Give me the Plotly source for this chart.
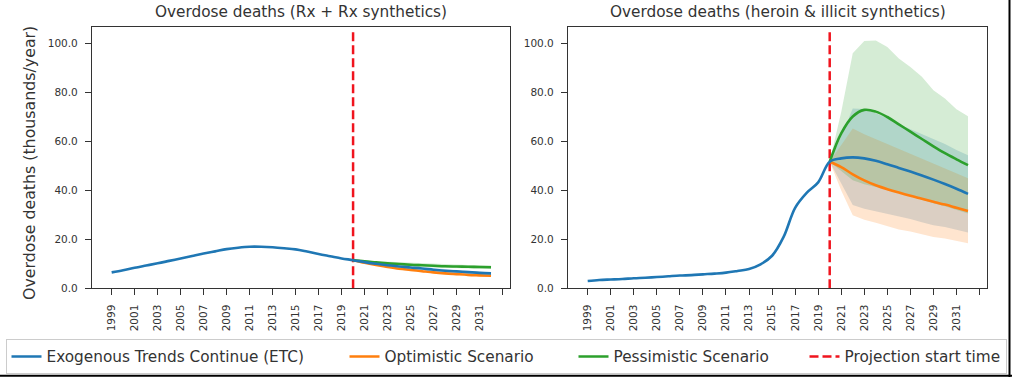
import plotly.graph_objects as go

# ---------------- data ----------------
years_hist = list(range(1999, 2020))
years_proj = list(range(2020, 2033))
tick_years = list(range(1999, 2034, 2))
tick_text = [str(y) for y in range(1999, 2032, 2)] + [""]
y_ticks = [0, 20, 40, 60, 80, 100]

# Left panel: Rx + Rx synthetics (thousands/year)
rx_hist = [6.5, 7.4, 8.4, 9.3, 10.2, 11.2, 12.2, 13.2, 14.2, 15.1, 16.0, 16.6,
           17.0, 17.0, 16.8, 16.4, 15.9, 15.0, 14.0, 13.1, 12.2]
rx_etc = [11.5, 10.7, 10.0, 9.4, 8.9, 8.5, 8.1, 7.6, 7.2, 6.9, 6.6, 6.3, 6.1]
rx_opt = [11.5, 10.4, 9.5, 8.7, 8.0, 7.5, 7.0, 6.5, 6.1, 5.8, 5.5, 5.3, 5.1]
rx_pess = [11.5, 11.0, 10.6, 10.2, 9.9, 9.6, 9.4, 9.2, 9.0, 8.9, 8.8, 8.7, 8.6]
rx_etc_lo = [11.5, 10.5, 9.7, 9.0, 8.5, 8.0, 7.6, 7.1, 6.7, 6.4, 6.1, 5.8, 5.6]
rx_etc_hi = [11.5, 10.9, 10.3, 9.8, 9.3, 9.0, 8.6, 8.1, 7.7, 7.4, 7.1, 6.8, 6.6]
rx_opt_lo = [11.5, 10.2, 9.2, 8.4, 7.6, 7.1, 6.6, 6.1, 5.7, 5.3, 5.0, 4.8, 4.6]
rx_opt_hi = [11.5, 10.6, 9.8, 9.0, 8.4, 7.9, 7.4, 6.9, 6.5, 6.2, 5.9, 5.7, 5.5]
rx_pess_lo = [11.5, 10.7, 10.2, 9.7, 9.3, 9.0, 8.8, 8.5, 8.3, 8.2, 8.1, 8.0, 7.9]
rx_pess_hi = [11.5, 11.3, 11.0, 10.7, 10.5, 10.2, 10.0, 9.9, 9.7, 9.6, 9.5, 9.4, 9.3]

# Right panel: heroin & illicit synthetics (thousands/year)
il_hist = [3.0, 3.4, 3.6, 3.8, 4.1, 4.3, 4.6, 4.9, 5.2, 5.4, 5.7, 6.0, 6.4,
           7.1, 7.9, 9.8, 13.3, 21.0, 32.9, 39.0, 43.3]
il_etc = [51.7, 53.1, 53.5, 53.1, 52.1, 50.7, 49.2, 47.7, 46.1, 44.4, 42.6, 40.7, 38.6]
il_opt = [51.7, 49.5, 46.6, 44.1, 42.1, 40.5, 39.1, 37.8, 36.6, 35.4, 34.2, 32.9, 31.6]
il_pess = [51.7, 63.3, 70.2, 72.9, 72.2, 70.0, 67.0, 64.0, 61.0, 58.0, 55.2, 52.7, 50.3]
il_etc_hi = [51.7, 62.0, 73.5, 73.3, 71.5, 69.5, 67.0, 65.0, 63.0, 61.0, 59.0, 56.5, 54.4]
il_etc_lo = [51.7, 43.0, 34.0, 32.5, 31.5, 30.5, 29.2, 28.3, 27.0, 25.8, 25.0, 23.8, 22.8]
il_opt_hi = [51.7, 58.5, 65.3, 63.0, 61.0, 59.0, 57.0, 55.0, 53.0, 51.0, 49.0, 47.0, 45.0]
il_opt_lo = [51.7, 40.0, 29.9, 28.0, 26.8, 25.5, 24.0, 23.2, 22.0, 21.0, 20.3, 19.2, 18.4]
il_pess_hi = [51.7, 72.0, 96.0, 101.1, 101.3, 98.6, 93.9, 90.4, 86.4, 80.9, 77.6, 73.2, 70.3]
il_pess_lo = [51.7, 48.0, 44.2, 42.5, 41.5, 40.3, 39.0, 37.5, 36.2, 34.8, 33.5, 32.0, 30.6]

projection_start = 2020
vline_top = 105.0

titles = ["Overdose deaths (Rx + Rx synthetics)",
          "Overdose deaths (heroin & illicit synthetics)"]
y_title = "Overdose deaths (thousands/year)"
names = ["Exogenous Trends Continue (ETC)", "Optimistic Scenario",
         "Pessimistic Scenario", "Projection start time"]

# ---------------- styles ----------------
C_BLUE, C_ORANGE, C_GREEN = "#1f77b4", "#ff7f0e", "#2ca02c"
F_BLUE, F_ORANGE, F_GREEN = ("rgba(31,119,180,0.2)", "rgba(255,127,14,0.2)",
                             "rgba(44,160,44,0.2)")
FONT = "DejaVu Sans"
TXT = "#333333"
LEG_W = [293, 184, 186, None]   # legend entry widths (px)

W, H = 1012, 377
fig = go.Figure()

panels = [
    dict(x="x", y="y", hist=rx_hist, etc=rx_etc, opt=rx_opt, pess=rx_pess,
         bands=[(rx_etc_lo, rx_etc_hi, F_BLUE), (rx_opt_lo, rx_opt_hi, F_ORANGE),
                (rx_pess_lo, rx_pess_hi, F_GREEN)], legend=True),
    dict(x="x2", y="y2", hist=il_hist, etc=il_etc, opt=il_opt, pess=il_pess,
         bands=[(il_etc_lo, il_etc_hi, F_BLUE), (il_opt_lo, il_opt_hi, F_ORANGE),
                (il_pess_lo, il_pess_hi, F_GREEN)], legend=False),
]

for p in panels:
    for lo, hi, fc in p["bands"]:
        fig.add_trace(go.Scatter(x=years_proj, y=hi, xaxis=p["x"], yaxis=p["y"],
                                 mode="lines", line=dict(width=0), showlegend=False,
                                 hoverinfo="skip"))
        fig.add_trace(go.Scatter(x=years_proj, y=lo, xaxis=p["x"], yaxis=p["y"],
                                 mode="lines", line=dict(width=0), fill="tonexty",
                                 fillcolor=fc, showlegend=False, hoverinfo="skip"))
    fig.add_trace(go.Scatter(x=[projection_start, projection_start], y=[0, vline_top],
                             xaxis=p["x"], yaxis=p["y"], mode="lines",
                             line=dict(color="#f0141e", width=2.5, dash="9px,4px"),
                             name=names[3], legendgroup="vl", legendrank=4,
                             showlegend=p["legend"]))
    fig.add_trace(go.Scatter(x=years_proj, y=p["opt"], xaxis=p["x"], yaxis=p["y"],
                             mode="lines", line=dict(color=C_ORANGE, width=2.6, shape="spline"),
                             name=names[1], legendgroup="opt", legendrank=2,
                             legendwidth=LEG_W[1], showlegend=p["legend"]))
    fig.add_trace(go.Scatter(x=years_proj, y=p["pess"], xaxis=p["x"], yaxis=p["y"],
                             mode="lines", line=dict(color=C_GREEN, width=2.6, shape="spline"),
                             name=names[2], legendgroup="pess", legendrank=3,
                             legendwidth=LEG_W[2], showlegend=p["legend"]))
    fig.add_trace(go.Scatter(x=years_hist + years_proj, y=p["hist"] + p["etc"],
                             xaxis=p["x"], yaxis=p["y"], mode="lines",
                             line=dict(color=C_BLUE, width=2.6, shape="spline"),
                             name=names[0], legendgroup="etc", legendrank=1,
                             legendwidth=LEG_W[0], showlegend=p["legend"]))

# axis geometry (pixels -> paper)
y_dom = [1 - 288.3 / H, 1 - 26.7 / H]
x_doms = [[92 / W, 510 / W], [568 / W, 987 / W]]
x_range = [1997.29, 2033.65]
y_range = [0, 106.9]

def xax(dom, anchor):
    return dict(domain=dom, anchor=anchor, range=x_range, tickmode="array",
                tickvals=tick_years, ticktext=tick_text, tickangle=-90,
                showline=True, mirror=True, linecolor=TXT, linewidth=1.2,
                ticks="outside", ticklen=6, tickwidth=1.2, tickcolor=TXT,
                ticklabelstandoff=5, automargin=False,
                showgrid=False, zeroline=False,
                tickfont=dict(family=FONT, size=10.5, color=TXT))

def yax(anchor):
    return dict(domain=y_dom, anchor=anchor, range=y_range, tickmode="array",
                tickvals=y_ticks, tickformat=".1f",
                showline=True, mirror=True, linecolor=TXT, linewidth=1.2,
                ticks="outside", ticklen=6, tickwidth=1.2, tickcolor=TXT,
                ticklabelstandoff=5, automargin=False,
                showgrid=False, zeroline=False,
                tickfont=dict(family=FONT, size=10.5, color=TXT))

annotations = []
for i, t in enumerate(titles):
    cx = (x_doms[i][0] + x_doms[i][1]) / 2
    annotations.append(dict(text=t, x=cx, y=1 - 12 / H, xref="paper", yref="paper",
                            xanchor="center", yanchor="middle", showarrow=False,
                            font=dict(family=FONT, size=15.3, color=TXT)))
annotations.append(dict(text=y_title, x=30 / W, y=1 - 163 / H, xref="paper", yref="paper",
                        xanchor="center", yanchor="middle", textangle=-90, showarrow=False,
                        font=dict(family=FONT, size=15.8, color=TXT)))

shapes = [
    dict(type="line", xref="paper", yref="paper", x0=1009.5 / W, x1=1009.5 / W, y0=0, y1=1,
         line=dict(color="black", width=2)),
    dict(type="line", xref="paper", yref="paper", x0=0, x1=1, y0=1.3 / H, y1=1.3 / H,
         line=dict(color="black", width=2)),
]

fig.update_layout(
    width=W, height=H, autosize=False,
    margin=dict(l=0, r=0, t=0, b=0, autoexpand=False),
    paper_bgcolor="white", plot_bgcolor="white",
    xaxis=xax(x_doms[0], "y"), yaxis=yax("x"),
    xaxis2=xax(x_doms[1], "y2"), yaxis2=yax("x2"),
    annotations=annotations, shapes=shapes,
    showlegend=True,
    legend=dict(orientation="h", x=0.5, xanchor="center", y=3 / H, yanchor="bottom",
                bordercolor="#cccccc", borderwidth=1, bgcolor="white",
                font=dict(family=FONT, size=15.3, color=TXT),
                traceorder="normal"),
)

fig.write_html("out.html", config={"displayModeBar": False},
               post_script="document.body.style.margin='0';")
